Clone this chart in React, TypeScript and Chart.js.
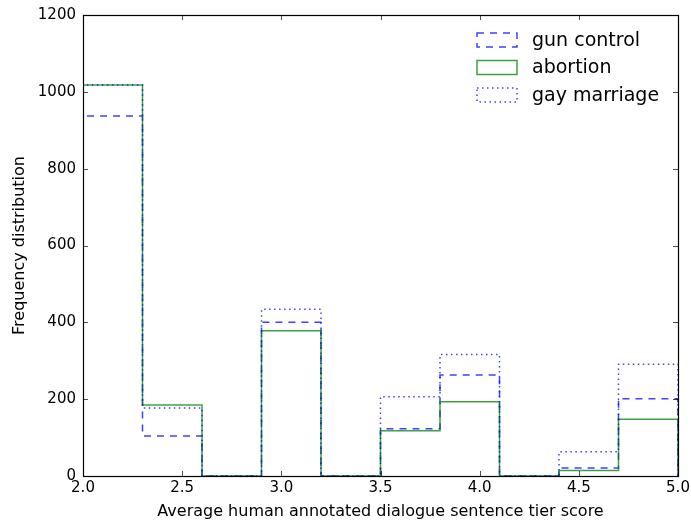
import React, { useEffect, useRef } from 'react';
import { Chart, registerables } from 'chart.js';

Chart.register(...registerables);

const binEdges = [2.0, 2.3, 2.6, 2.9, 3.2, 3.5, 3.8, 4.1, 4.4, 4.7, 5.0];
const gunControl = [937, 104, 0, 400, 0, 123, 263, 0, 21, 201];
const abortion = [1018, 185, 0, 378, 0, 118, 193, 0, 14, 148];
const gayMarriage = [1018, 177, 0, 434, 0, 206, 316, 0, 63, 291];
const seriesLabels = ['gun control', 'abortion', 'gay marriage'];
const xTicks = [2.0, 2.5, 3.0, 3.5, 4.0, 4.5, 5.0];
const yTicks = [0, 200, 400, 600, 800, 1000, 1200];
const xTitle = 'Average human annotated dialogue sentence tier score';
const yTitle = 'Frequency distribution';

const FONT = 'DejaVu Sans';
const BLUE = 'rgba(0,0,255,0.75)';
const GREEN = 'rgba(0,128,0,0.75)';
const DASH = [7, 6];
const DOT = [1.5, 3.5];

function stepPoints(counts: number[]) {
  const pts: { x: number; y: number }[] = [{ x: binEdges[0], y: 0 }];
  counts.forEach((c, i) => {
    pts.push({ x: binEdges[i], y: c });
    pts.push({ x: binEdges[i + 1], y: c });
  });
  pts.push({ x: binEdges[binEdges.length - 1], y: 0 });
  return pts;
}

const styles = [
  { color: BLUE, dash: DASH },
  { color: GREEN, dash: [] as number[] },
  { color: BLUE, dash: DOT },
];

const framePlugin = {
  id: 'frameAndLegend',
  afterDraw(chart: any) {
    const { ctx, chartArea } = chart;
    const { left, right, top, bottom } = chartArea;
    const xs = chart.scales.x;
    const ys = chart.scales.y;
    ctx.save();
    ctx.strokeStyle = '#000';
    ctx.lineWidth = 0.7;
    const tl = 5;
    xTicks.forEach((v) => {
      const px = Math.round(xs.getPixelForValue(v)) + 0.5;
      ctx.beginPath();
      ctx.moveTo(px, bottom);
      ctx.lineTo(px, bottom - tl);
      ctx.moveTo(px, top);
      ctx.lineTo(px, top + tl);
      ctx.stroke();
    });
    yTicks.forEach((v) => {
      const py = Math.round(ys.getPixelForValue(v)) + 0.5;
      ctx.beginPath();
      ctx.moveTo(left, py);
      ctx.lineTo(left + tl, py);
      ctx.moveTo(right, py);
      ctx.lineTo(right - tl, py);
      ctx.stroke();
    });
    ctx.lineWidth = 1.2;
    ctx.strokeRect(Math.round(left) + 0.5, Math.round(top) + 0.5, Math.round(right - left), Math.round(bottom - top));
    const boxX = right - 201;
    const boxW = 40;
    const boxH = 14;
    const textX = right - 146;
    const y0 = top + 25;
    const gap = 27.5;
    ctx.font = `19px "${FONT}"`;
    ctx.textBaseline = 'middle';
    ctx.textAlign = 'left';
    seriesLabels.forEach((lab, i) => {
      const cy = y0 + i * gap;
      ctx.strokeStyle = styles[i].color;
      ctx.lineWidth = 1.5;
      ctx.setLineDash(styles[i].dash);
      ctx.strokeRect(boxX, cy - boxH / 2, boxW, boxH);
      ctx.setLineDash([]);
      ctx.fillStyle = '#000';
      ctx.fillText(lab, textX, cy + 1);
    });
    ctx.restore();
  },
};

export default function App() {
  const ref = useRef<HTMLCanvasElement | null>(null);
  useEffect(() => {
    document.body.style.margin = '0';
    const canvas = ref.current;
    if (!canvas) return;
    const series = [gunControl, abortion, gayMarriage];
    const chart = new Chart(canvas, {
      type: 'line',
      data: {
        datasets: series.map((s, i) => ({
          label: seriesLabels[i],
          data: stepPoints(s),
          borderColor: styles[i].color,
          borderDash: styles[i].dash,
          borderWidth: 1.5,
          backgroundColor: 'rgba(0,0,0,0)',
          fill: false,
          pointRadius: 0,
          tension: 0,
          order: 3 - i,
        })),
      },
      options: {
        animation: false,
        responsive: false,
        devicePixelRatio: 1,
        parsing: false as any,
        layout: { padding: { top: 15, right: 13, left: 0, bottom: 0 } },
        plugins: { legend: { display: false }, tooltip: { enabled: false } },
        scales: {
          x: {
            type: 'linear',
            min: 2,
            max: 5,
            afterBuildTicks: (s: any) => {
              s.ticks = xTicks.map((v) => ({ value: v }));
            },
            afterFit: (s: any) => {
              s.height = 49;
              s.paddingLeft = 0;
              s.paddingRight = 0;
            },
            grid: { display: false, drawTicks: false },
            border: { display: false },
            ticks: {
              color: '#000',
              font: { family: FONT, size: 15 },
              padding: 3,
              maxRotation: 0,
              autoSkip: false,
              callback: (v: any) => Number(v).toFixed(1),
            },
            title: {
              display: true,
              text: xTitle,
              color: '#000',
              font: { family: FONT, size: 16 },
              padding: { top: 0, bottom: 3.4 },
            },
          },
          y: {
            type: 'linear',
            min: 0,
            max: 1200,
            afterBuildTicks: (s: any) => {
              s.ticks = yTicks.map((v) => ({ value: v }));
            },
            afterFit: (s: any) => {
              s.width = 83;
              s.paddingTop = 0;
              s.paddingBottom = 0;
            },
            grid: { display: false, drawTicks: false },
            border: { display: false },
            ticks: {
              color: '#000',
              font: { family: FONT, size: 15 },
              padding: 7,
              autoSkip: false,
              callback: (v: any) => String(v),
            },
            title: {
              display: true,
              text: yTitle,
              color: '#000',
              font: { family: FONT, size: 16 },
              padding: { top: 10.4, bottom: 0 },
            },
          },
        },
      },
      plugins: [framePlugin],
    });
    return () => chart.destroy();
  }, []);
  return (
    <div style={{ width: 691, height: 525 }}>
      <canvas ref={ref} width={691} height={525} style={{ display: 'block' }} />
    </div>
  );
}
